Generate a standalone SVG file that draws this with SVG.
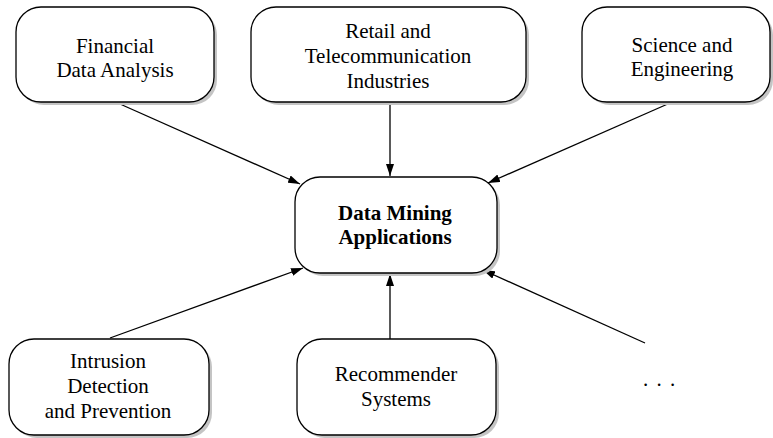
<svg xmlns="http://www.w3.org/2000/svg" width="773" height="438" viewBox="0 0 773 438">
<style>
.box{fill:#fff;stroke:#000;stroke-width:1.3}
.sh{fill:#c4c4c4}
.t{font-family:"Liberation Serif","Times New Roman",serif;font-size:21px;fill:#000;text-anchor:middle}
.b{font-weight:bold}
.edge{stroke:#000;stroke-width:1.3;fill:none;marker-end:url(#ah)}
</style>
<defs>
<marker id="ah" viewBox="0 0 12 8" refX="12" refY="4" markerWidth="12" markerHeight="8" markerUnits="userSpaceOnUse" orient="auto">
<path d="M0,0 L12,4 L0,8 Z" fill="#000"/>
</marker>
</defs>
<rect width="773" height="438" fill="#fff"/>
<g id="connectors">
<line class="edge" x1="120" y1="104" x2="300" y2="184"/>
<line class="edge" x1="390" y1="104" x2="390" y2="176"/>
<line class="edge" x1="670" y1="103" x2="488" y2="183"/>
<line class="edge" x1="110" y1="338" x2="303" y2="268"/>
<line class="edge" x1="390" y1="339" x2="390" y2="274"/>
<line class="edge" x1="645" y1="343" x2="483" y2="270"/>
</g>
<g id="financial">
<rect class="sh" x="19" y="10" width="198" height="95" rx="25"/>
<rect class="box" x="16" y="7" width="198" height="95" rx="25"/>
<text class="t" x="115" y="53">Financial</text>
<text class="t" x="115" y="77">Data Analysis</text>
</g>
<g id="retail">
<rect class="sh" x="254" y="10" width="275" height="95" rx="25"/>
<rect class="box" x="251" y="7" width="275" height="95" rx="25"/>
<text class="t" x="388" y="38">Retail and</text>
<text class="t" x="388" y="63">Telecommunication</text>
<text class="t" x="388" y="88">Industries</text>
</g>
<g id="science">
<rect class="sh" x="585" y="10" width="188" height="95" rx="25"/>
<rect class="box" x="582" y="7" width="188" height="95" rx="25"/>
<text class="t" x="682" y="52">Science and</text>
<text class="t" x="682" y="76">Engineering</text>
</g>
<g id="dma">
<rect class="sh" x="298" y="180" width="202" height="96" rx="25"/>
<rect class="box" x="295" y="177" width="202" height="96" rx="25"/>
<text class="t b" x="395" y="220">Data Mining</text>
<text class="t b" x="395" y="244">Applications</text>
</g>
<g id="intrusion">
<rect class="sh" x="12" y="342" width="200" height="96" rx="25"/>
<rect class="box" x="9" y="339" width="200" height="96" rx="25"/>
<text class="t" x="108" y="368">Intrusion</text>
<text class="t" x="108" y="393">Detection</text>
<text class="t" x="108" y="418">and Prevention</text>
</g>
<g id="recommender">
<rect class="sh" x="300" y="342" width="199" height="96" rx="25"/>
<rect class="box" x="297" y="339" width="199" height="96" rx="25"/>
<text class="t" x="396" y="381">Recommender</text>
<text class="t" x="396" y="406">Systems</text>
</g>
<g id="more">
<text x="643" y="386" font-family="Liberation Serif,serif" font-size="21" letter-spacing="1.5">. . .</text>
</g>
</svg>
